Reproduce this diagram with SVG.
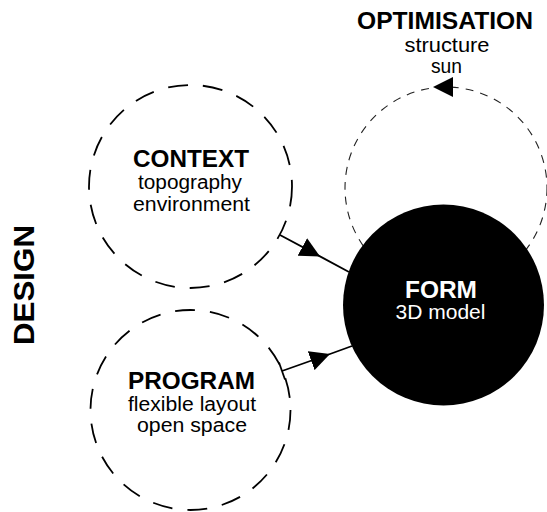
<svg xmlns="http://www.w3.org/2000/svg" width="547" height="512" viewBox="0 0 547 512">
<defs>
<style>
.bg{fill:#fff}
.ring{fill:none;stroke:#000;stroke-width:1.8;stroke-dasharray:20 15}
.opt{fill:none;stroke:#222;stroke-width:1.1;stroke-dasharray:8 7}
.form{fill:#000}
.conn{fill:none;stroke:#000;stroke-width:1.8}
text{font-family:"Liberation Sans",Arial,Helvetica,sans-serif;text-anchor:middle;fill:#000}
.h{font-weight:bold;font-size:23px}
.s{font-size:19.5px}
.w{fill:#fff}
</style>
<marker id="arrow" viewBox="0 0 20 20" refX="20" refY="10" markerWidth="20" markerHeight="20" markerUnits="userSpaceOnUse" orient="auto">
<path d="M0,0 L20,10 L0,20 z" fill="#000"/>
</marker>
<marker id="tee" viewBox="0 0 4 20" refX="2" refY="10" markerWidth="4" markerHeight="20" markerUnits="userSpaceOnUse" orient="auto">
<path d="M2,1 L2,19" stroke="#000" stroke-width="1.8"/>
</marker>
</defs>
<rect class="bg" x="0" y="0" width="547" height="512"/>
<g id="design-label">
<text class="h" style="font-size:29px" transform="translate(34,285) rotate(-90)" x="0" y="0" textLength="120" lengthAdjust="spacingAndGlyphs">DESIGN</text>
</g>
<g id="optimisation">
<circle class="opt" cx="446" cy="188" r="101"/>
<path d="M453,87 L433,87" fill="none" stroke="none" marker-end="url(#arrow)"/>
<text class="h" x="445" y="29" textLength="176" lengthAdjust="spacingAndGlyphs">OPTIMISATION</text>
<text class="s" x="447" y="52" textLength="85" lengthAdjust="spacingAndGlyphs">structure</text>
<text class="s" x="446.5" y="73" textLength="31" lengthAdjust="spacingAndGlyphs">sun</text>
</g>
<g id="context">
<circle class="ring" cx="190.5" cy="186.5" r="101.5"/>
<text class="h" x="191" y="167" textLength="116" lengthAdjust="spacingAndGlyphs">CONTEXT</text>
<text class="s" x="190" y="189" textLength="104" lengthAdjust="spacingAndGlyphs">topography</text>
<text class="s" x="191.5" y="210.5" textLength="117" lengthAdjust="spacingAndGlyphs">environment</text>
</g>
<g id="program">
<circle class="ring" cx="190.5" cy="410" r="100"/>
<text class="h" x="191.5" y="389" textLength="127" lengthAdjust="spacingAndGlyphs">PROGRAM</text>
<text class="s" x="192" y="410.5" textLength="128" lengthAdjust="spacingAndGlyphs">flexible layout</text>
<text class="s" x="192" y="432" textLength="110" lengthAdjust="spacingAndGlyphs">open space</text>
</g>
<g id="form">
<circle class="form" cx="443.5" cy="305" r="100.5"/>
<text class="h w" x="441" y="298" textLength="72" lengthAdjust="spacingAndGlyphs">FORM</text>
<text class="s w" x="440.5" y="318.5" textLength="90" lengthAdjust="spacingAndGlyphs">3D model</text>
</g>
<g id="connectors">
<polyline class="conn" points="280,235 320,256.4 349,272" marker-mid="url(#arrow)"/>
<polyline class="conn" points="282,371 330,354 352,346" marker-start="url(#tee)" marker-mid="url(#arrow)"/>
</g>
</svg>
